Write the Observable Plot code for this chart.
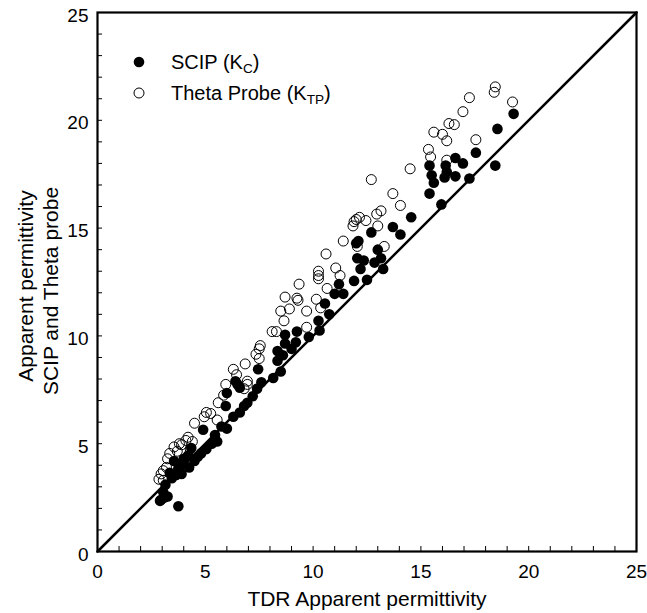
<!DOCTYPE html>
<html>
<head>
<meta charset="utf-8">
<script src="https://cdn.jsdelivr.net/npm/d3@7"></script>
<script src="https://cdn.jsdelivr.net/npm/@observablehq/plot@0.6"></script>
<style>
  html, body { margin: 0; padding: 0; background: #fff; }
  #wrap { position: relative; width: 647px; height: 613px; font-family: "Liberation Sans", Arial, Helvetica, sans-serif; }
  #legend { position: absolute; left: 133px; top: 46px; font-size: 20px; color: #000; line-height: 1; }
  .row { display: flex; align-items: center; height: 31px; }
  .row svg { margin-right: 26px; }
  sub { font-size: 0.68em; vertical-align: -0.3em; line-height: 0; }
</style>
</head>
<body>
<div id="wrap">
  <div id="chart"></div>
  <div id="legend">
    <div class="row"><svg width="12" height="12"><circle cx="6" cy="6" r="5.3" fill="#000"/></svg><span>SCIP (K<sub>C</sub>)</span></div>
    <div class="row"><svg width="12" height="12"><circle cx="6" cy="6" r="5" fill="none" stroke="#000" stroke-width="1"/></svg><span>Theta Probe (K<sub>TP</sub>)</span></div>
  </div>
</div>
<script>
// SCIP (Kc) vs TDR
const scipX = [19.3,18.55,18.45,17.55,17.25,16.95,16.6,16.6,16.2,16.15,16.1,15.95,15.4,15.5,15.6,15.4,14.55,13.7,14.05,12.7,12.1,12.0,13.0,13.15,13.25,12.85,12.35,12.05,12.2,12.5,11.9,11.2,11.4,11.0,10.55,10.75,10.25,10.3,9.8,9.25,9.2,9.0,8.7,8.7,8.6,8.35,8.5,8.15,8.35,7.45,7.6,7.4,7.2,6.95,6.8,6.6,6.3,6.5,6.6,6.4,6.0,5.95,6.0,5.75,5.45,5.55,5.05,4.9,4.65,4.5,4.35,4.2,4.0,3.9,3.75,3.65,3.45,3.15,3.05,2.95,3.25,3.75,3.35,3.55,2.9,3.1,4.25,4.8,5.3,3.9];
const scipY = [20.3,19.6,17.9,18.5,17.3,18.0,18.25,17.4,17.6,17.9,17.35,16.1,17.9,17.45,17.1,16.6,15.5,15.05,14.7,14.8,14.4,14.3,14.0,13.6,13.1,13.4,13.5,13.6,13.1,12.6,12.55,12.4,11.95,11.95,11.5,11.0,10.7,10.25,9.95,10.2,9.7,9.4,10.05,9.65,9.1,8.85,8.35,8.05,9.3,8.45,7.85,7.55,7.2,6.9,6.75,6.45,6.25,7.75,7.6,7.9,7.35,6.75,5.7,5.8,5.4,5.1,4.75,5.65,4.4,4.2,4.8,4.45,4.3,4.0,3.85,3.55,3.4,3.1,2.75,2.4,2.55,2.1,3.65,4.2,2.35,2.5,3.9,4.55,5.0,3.6];
// Theta Probe (Ktp) vs TDR
const thetaX = [18.45,18.4,19.25,17.25,16.95,16.3,16.55,15.6,16.0,16.2,17.55,15.35,15.45,16.2,14.5,12.7,13.7,14.05,13.15,12.95,12.15,12.0,11.9,11.85,12.45,13.0,12.05,13.3,11.4,10.6,11.05,10.25,10.25,10.25,11.25,9.35,8.7,9.25,9.3,8.9,8.5,9.7,8.65,10.15,10.35,10.65,9.7,8.1,8.3,7.55,7.5,7.35,7.5,6.85,6.3,6.45,6.95,6.95,6.8,5.95,5.85,5.6,5.05,5.25,4.95,5.55,4.5,4.2,4.1,3.9,3.7,3.35,3.25,3.05,2.85,3.05,3.55,4.3,3.8,4.4,2.95,3.2];
const thetaY = [21.55,21.3,20.85,21.05,20.4,19.85,19.8,19.45,19.35,19.05,19.1,18.65,18.3,18.15,17.75,17.25,16.6,16.05,15.8,15.65,15.5,15.4,15.3,15.1,15.35,15.1,14.15,14.15,14.4,13.8,13.15,13.0,12.8,12.65,12.8,12.4,11.8,11.75,11.65,11.25,11.15,11.15,10.7,11.7,11.3,12.2,10.4,10.2,10.2,9.55,9.4,9.15,8.95,8.7,8.45,8.2,7.9,7.75,7.55,7.75,7.25,6.9,6.45,6.4,6.25,6.1,5.95,5.3,5.15,4.95,4.65,4.55,4.3,3.75,3.35,3.3,4.85,4.75,5.0,5.1,3.6,3.9];

const axisDomain = [0, 25];
const majorTicks = [0, 5, 10, 15, 20, 25];
const minorTicks = d3.range(1, 25);
const oneToOne = [0, 25];

const scip = scipX.map((x, i) => ({x, y: scipY[i]}));
const theta = thetaX.map((x, i) => ({x, y: thetaY[i]}));

const W = 647, H = 613;
const mL = 97, mR = 11, mT = 12, mB = 62;
const innerW = W - mL - mR, innerH = H - mT - mB;

const chart = Plot.plot({
  width: W,
  height: H,
  marginLeft: mL,
  marginRight: mR,
  marginTop: mT,
  marginBottom: mB,
  style: {fontFamily: '"Liberation Sans", Arial, Helvetica, sans-serif', fontSize: "19px", color: "#000", background: "#fff"},
  x: {domain: axisDomain, label: null},
  y: {domain: axisDomain, label: null},
  marks: [
    Plot.axisX(majorTicks, {tickSize: 0, tickPadding: 13, fontSize: 19, tickFormat: d => String(d)}),
    Plot.axisY(majorTicks, {tickSize: 0, tickPadding: 9, fontSize: 19, dy: 3, tickFormat: d => String(d)}),
    Plot.tickX(minorTicks, {x: d => d, insetTop: innerH - 5, stroke: "#000", strokeWidth: 1}),
    Plot.tickY(minorTicks, {y: d => d, insetRight: innerW - 5, stroke: "#000", strokeWidth: 1}),
    Plot.line(oneToOne, {x: d => d, y: d => d, stroke: "#000", strokeWidth: 2.5}),
    Plot.dot(theta, {x: "x", y: "y", r: 5, fill: "none", stroke: "#000", strokeWidth: 1}),
    Plot.dot(scip, {x: "x", y: "y", r: 5.3, fill: "#000", stroke: "none"}),
    Plot.frame({stroke: "#000", strokeWidth: 2.2}),
    Plot.text(["TDR Apparent permittivity"], {frameAnchor: "bottom", dy: 54, fontSize: 21, text: d => d}),
    Plot.text(["Apparent permittivity"], {frameAnchor: "left", textAnchor: "middle", dx: -71, dy: 4, rotate: -90, fontSize: 21, text: d => d}),
    Plot.text(["SCIP and Theta probe"], {frameAnchor: "left", textAnchor: "middle", dx: -46, dy: 9, rotate: -90, fontSize: 21, text: d => d})
  ]
});
document.getElementById("chart").appendChild(chart);
</script>
</body>
</html>
